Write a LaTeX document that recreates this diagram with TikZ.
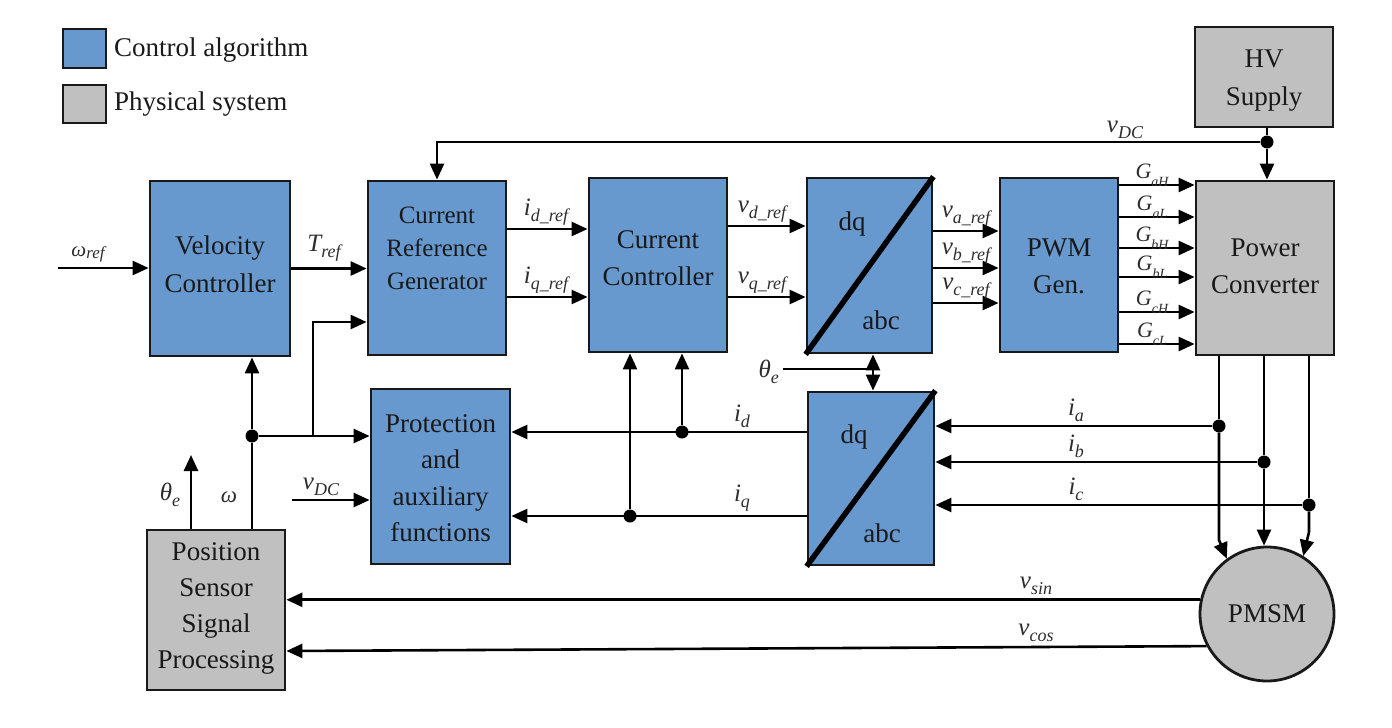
\documentclass[tikz,border=0pt]{standalone}
\usepackage{fontspec}
\setmainfont{Liberation Serif}
\usetikzlibrary{arrows.meta}
\definecolor{ctrlblue}{RGB}{103,153,207}
\definecolor{physgray}{RGB}{192,192,192}
\definecolor{lblgray}{RGB}{45,45,45}
\newcommand\sg[2]{{\fontsize{25}{25}\selectfont\itshape #1}{\fontsize{18}{18}\selectfont\itshape\raisebox{-6pt}{#2}}}
\newcommand\gt[1]{{\fontsize{22}{22}\selectfont\itshape G}{\fontsize{14}{14}\selectfont\itshape\raisebox{-8pt}{#1}}}
\begin{document}
\begin{tikzpicture}[x=1pt,y=-1pt,
  ctrl/.style={draw=black!90, line width=2.8pt, fill=ctrlblue, inner sep=0pt},
  phys/.style={draw=black!90, line width=2.8pt, fill=physgray, inner sep=0pt},
  txt/.style={align=center, inner sep=0pt, font=\fontsize{27}{37}\selectfont, text=black!90},
  lab/.style={inner sep=0pt, text=lblgray},
  arr/.style={line width=2.6pt, -{Triangle[length=16pt,width=14pt]}},
  wire/.style={line width=2.6pt},
  dot/.style={circle, fill=black, inner sep=0pt, minimum size=13pt},
  diag/.style={line width=5.5pt}]
\useasboundingbox (0,0) rectangle (1392,728);

% legend
\node[ctrl, minimum width=43pt, minimum height=39pt] (legc) at (84.5,48.5) {};
\node[txt, anchor=west] (legct) at (114,50) {Control algorithm};
\node[phys, minimum width=43pt, minimum height=38pt] (legp) at (84.5,104) {};
\node[txt, anchor=west] (legpt) at (114,104) {Physical system};

% blocks
\node[ctrl, minimum width=140pt, minimum height=175pt] (vel) at (220,268.5) {};
\node[txt, font=\fontsize{27}{38}\selectfont] (velt) at (220,264) {Velocity\\Controller};
\node[ctrl, minimum width=138pt, minimum height=174pt] (crg) at (437,268) {};
\node[txt, font=\fontsize{25}{33}\selectfont] (crgt) at (437,248) {Current\\Reference\\Generator};
\node[ctrl, minimum width=138pt, minimum height=174pt] (cc) at (658,265) {};
\node[txt] (cct) at (658,258) {Current\\Controller};
\node[ctrl, minimum width=125pt, minimum height=175pt] (dq1) at (869.5,265.5) {};
\node[ctrl, minimum width=118pt, minimum height=174pt] (pwm) at (1059,265) {};
\node[txt] (pwmt) at (1059,266) {PWM\\Gen.};
\node[phys, minimum width=138pt, minimum height=174pt] (pc) at (1265,268) {};
\node[txt] (pct) at (1265,266) {Power\\Converter};
\node[phys, minimum width=138pt, minimum height=100pt] (hv) at (1264,77) {};
\node[txt, font=\fontsize{27}{38}\selectfont] (hvt) at (1264,81) {HV\\Supply};
\node[ctrl, minimum width=139pt, minimum height=175pt] (prot) at (440.5,476.5) {};
\node[txt, font=\fontsize{27}{36.5}\selectfont] (prott) at (440.5,478) {Protection\\and\\auxiliary\\functions};
\node[ctrl, minimum width=126pt, minimum height=173pt] (dq2) at (871,478.5) {};
\node[phys, minimum width=138pt, minimum height=160pt] (pss) at (216,610) {};
\node[txt, font=\fontsize{27}{36}\selectfont] (psst) at (216,608) {Position\\Sensor\\Signal\\Processing};
\node[phys, circle, minimum size=134pt] (pmsm) at (1267,614) {};
\node[txt] (pmsmt) at (1267,614) {PMSM};

% dq/abc
\draw[diag] (dq1.south west) -- (dq1.north east);
\draw[diag] (dq2.south west) -- (dq2.north east);
\node[txt] (dq1a) at (852,224) {dq};
\node[txt] (dq1b) at (881,320) {abc};
\node[txt] (dq2a) at (854,437) {dq};
\node[txt] (dq2b) at (882,533) {abc};

% forward path
\coordinate (wr) at (58,268);
\draw[arr] (wr) -- (wr -| vel.west);
\draw[arr] (vel.east) -- (vel.east -| crg.west);
\draw[arr] ([yshift=39pt]crg.east) -- ([yshift=39pt]crg.east -| cc.west);
\draw[arr] ([yshift=-29pt]crg.east) -- ([yshift=-29pt]crg.east -| cc.west);
\draw[arr] ([yshift=39pt]cc.east) -- ([yshift=39pt]cc.east -| dq1.west);
\draw[arr] ([yshift=-32pt]cc.east) -- ([yshift=-32pt]cc.east -| dq1.west);
\draw[arr] ([yshift=34.5pt]dq1.east) -- ([yshift=34.5pt]dq1.east -| pwm.west);
\draw[arr] ([yshift=-2.5pt]dq1.east) -- ([yshift=-2.5pt]dq1.east -| pwm.west);
\draw[arr] ([yshift=-37.5pt]dq1.east) -- ([yshift=-37.5pt]dq1.east -| pwm.west);
\foreach \s in {80,48,17,-12,-47,-79}
  \draw[arr] ([yshift=\s pt]pwm.east) -- ([yshift=\s pt]pwm.east -| pc.west);

% DC link
\node[dot] (dvdc) at (1267,142) {};
\draw[wire] (hv.south -| dvdc) -- (dvdc);
\draw[arr] (dvdc) -- (dvdc |- pc.north);
\draw[arr] (dvdc) -- (crg.north |- dvdc) -- (crg.north);

% speed feedback
\node[dot] (dw) at (252,436) {};
\draw[wire] (pss.north -| dw) -- (dw);
\draw[arr] (dw) -- (dw |- vel.south);
\draw[arr] (dw) -- (dw -| prot.west);
\coordinate (br) at (313,436);
\coordinate (brt) at (313,322);
\draw[arr] (br) -- (brt) -- (brt -| crg.west);
\coordinate (the) at (191,455);
\draw[arr] (pss.north -| the) -- (the);
\coordinate (vdcl) at (292,500);
\draw[arr] (vdcl) -- (vdcl -| prot.west);

% current feedback
\node[dot] (did) at (682,432) {};
\node[dot] (diq) at (630,516) {};
\draw[arr] (dq2.west |- did) -- (did -| prot.east);
\draw[arr] (did) -- (did |- cc.south);
\draw[arr] (dq2.west |- diq) -- (diq -| prot.east);
\draw[arr] (diq) -- (diq |- cc.south);

\coordinate (thl) at (783,369);
\coordinate (thm) at (873,369);
\draw[wire] (thl) -- (thm);
\draw[arr] (thm) -- (thm |- dq1.south);
\draw[arr] (thm) -- (thm |- dq2.north);

\node[dot] (dia) at (1219,426) {};
\node[dot] (dib) at (1264,462) {};
\node[dot] (dic) at (1309,505) {};
\draw[arr] (dia) -- (dia -| dq2.east);
\draw[arr] (dib) -- (dib -| dq2.east);
\draw[arr] (dic) -- (dic -| dq2.east);
\coordinate (ka) at (1219,540);
\coordinate (kc) at (1309,532);
\draw[wire] (pc.south -| dia) -- (dia);
\draw[arr] (dia) -- (ka) -- (pmsm.126);
\draw[wire] (pc.south -| dib) -- (dib);
\draw[arr] (dib) -- (dib |- pmsm.north);
\draw[wire] (pc.south -| dic) -- (dic);
\draw[arr] (dic) -- (kc) -- (pmsm.58);

% sensor signals
\draw[arr] (pmsm.168) -- (pmsm.168 -| pss.east);
\draw[arr] (pmsm.208) -- ([yshift=-41pt]pss.east);

% labels
\node[lab, anchor=south] (lwr) at (88,262) {{\fontsize{21}{21}\selectfont\itshape ω}{\fontsize{17}{17}\selectfont\itshape\raisebox{-2pt}{ref}}};
\node[lab, anchor=south] (ltr) at (324,262) {\sg{T}{ref}};
\node[lab, anchor=south] (lidr) at (546,226) {\sg{i}{d\_ref}};
\node[lab, anchor=south] (liqr) at (546,294) {\sg{i}{q\_ref}};
\node[lab, anchor=south] (lvdr) at (762,223) {\sg{v}{d\_ref}};
\node[lab, anchor=south] (lvqr) at (762,294) {\sg{v}{q\_ref}};
\node[lab, anchor=south] (lvar) at (966,228) {\sg{v}{a\_ref}};
\node[lab, anchor=south] (lvbr) at (966,265) {\sg{v}{b\_ref}};
\node[lab, anchor=south] (lvcr) at (966,300) {\sg{v}{c\_ref}};
\node[lab, anchor=south] (lgah) at (1152,187) {\gt{aH}};
\node[lab, anchor=south] (lgal) at (1152,219) {\gt{aL}};
\node[lab, anchor=south] (lgbh) at (1152,250) {\gt{bH}};
\node[lab, anchor=south] (lgbl) at (1152,279) {\gt{bL}};
\node[lab, anchor=south] (lgch) at (1152,314) {\gt{cH}};
\node[lab, anchor=south] (lgcl) at (1152,346) {\gt{cL}};
\node[lab, anchor=south] (lvdct) at (1125,139) {\sg{v}{DC}};
\node[lab, anchor=south] (lid) at (742,428) {\sg{i}{d}};
\node[lab, anchor=south] (liq) at (742,512) {\sg{i}{q}};
\node[lab, anchor=east] (lthm) at (779,372) {\sg{θ}{e}};
\node[lab, anchor=south] (lia) at (1076,422) {\sg{i}{a}};
\node[lab, anchor=south] (lib) at (1076,458) {\sg{i}{b}};
\node[lab, anchor=south] (lic) at (1076,501) {\sg{i}{c}};
\node[lab, anchor=south] (lvsin) at (1036,595) {\sg{v}{sin}};
\node[lab, anchor=south] (lvcos) at (1036,642) {\sg{v}{cos}};
\node[lab] (lthe) at (170,495) {\sg{θ}{e}};
\node[lab] (lw) at (229,497) {{\fontsize{23}{23}\selectfont\itshape ω}};
\node[lab, anchor=south] (lvdcl) at (321,496) {\sg{v}{DC}};
\end{tikzpicture}
\end{document}
